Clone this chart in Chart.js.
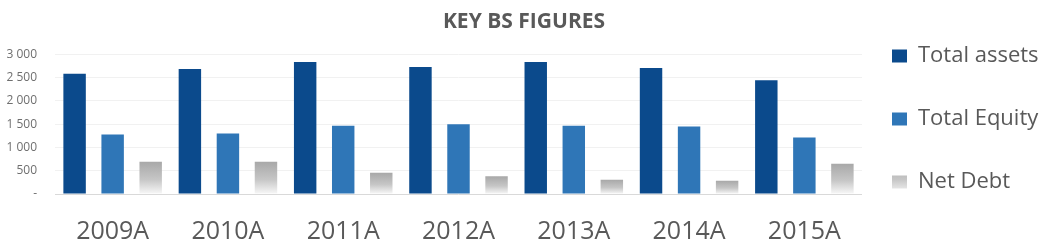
<!DOCTYPE html>
<html><head><meta charset="utf-8">
<script src="https://cdn.jsdelivr.net/npm/chart.js@4/dist/chart.umd.min.js"></script>
<style>html,body{margin:0;padding:0;background:#fff;}#wrap{width:1048px;height:251px;position:relative;}</style>
</head><body><div id="wrap"><canvas id="c" width="1048" height="251"></canvas></div>
<script>
const categories = ['2009A', '2010A', '2011A', '2012A', '2013A', '2014A', '2015A'];
const totalAssets = [2580, 2680, 2830, 2725, 2830, 2705, 2440];
const totalEquity = [1275, 1300, 1465, 1495, 1465, 1450, 1210];
const netDebt = [690, 690, 455, 380, 305, 285, 650];
const yTicks = [0, 500, 1000, 1500, 2000, 2500, 3000];
const seriesNames = ['Total assets', 'Total Equity', 'Net Debt'];
const titleText = 'KEY BS FIGURES';

Chart.defaults.font.family = "'Open Sans', sans-serif";
Chart.defaults.color = '#595959';

function fmt(v) {
  if (v === 0) return '-';
  return String(v).replace(/\B(?=(\d{3})+(?!\d))/g, ' ');
}

function debtGradient(ctx) {
  const chart = ctx.chart;
  if (!chart.chartArea || ctx.type !== 'data') return '#b3b3b3';
  const y = chart.scales.y;
  const top = y.getPixelForValue(ctx.raw);
  const base = y.getPixelForValue(0);
  const g = chart.ctx.createLinearGradient(0, top, 0, base);
  g.addColorStop(0, '#a8a8a8');
  g.addColorStop(0.55, '#c6c6c6');
  g.addColorStop(1, '#f8f8f8');
  return g;
}

const legendShift = {
  id: 'legendShift',
  beforeDraw(chart) {
    const lg = chart.legend;
    if (lg) {
      lg.left = 851;
      lg.top = 4;
    }
  }
};

new Chart(document.getElementById('c'), {
  type: 'bar',
  data: {
    labels: categories,
    datasets: [
      { label: seriesNames[0], data: totalAssets, backgroundColor: '#0b4a8c' },
      { label: seriesNames[1], data: totalEquity, backgroundColor: '#2f76b7' },
      { label: seriesNames[2], data: netDebt, backgroundColor: debtGradient }
    ]
  },
  options: {
    responsive: false,
    animation: false,
    devicePixelRatio: 1,
    categoryPercentage: 0.99,
    barPercentage: 0.59,
    layout: { padding: { left: 0, right: 0, top: 0, bottom: 0 } },
    plugins: {
      title: {
        display: true, text: titleText,
        font: { size: 21, weight: 'bold' }, color: '#595959',
        padding: { top: 9, bottom: 20 }
      },
      legend: {
        position: 'right', align: 'start', maxWidth: 186,
        labels: {
          boxWidth: 15, boxHeight: 13, padding: 41,
          font: { size: 22 }, color: '#595959'
        }
      },
      tooltip: { enabled: false }
    },
    scales: {
      x: {
        grid: { display: false, drawTicks: false },
        border: { display: false },
        ticks: { font: { size: 25 }, color: '#595959', padding: 23 },
        afterFit(s) { s.height = 57; }
      },
      y: {
        min: 0, max: 3000,
        afterBuildTicks(s) { s.ticks = yTicks.map(v => ({ value: v })); },
        grid: {
          drawTicks: false,
          color: (c) => (c.tick && c.tick.value === 0) ? '#d9d9d9' : '#f1f1f1'
        },
        border: { display: false },
        ticks: { font: { size: 12 }, color: '#6f6f6f', padding: 18, callback: (v) => fmt(v) },
        afterFit(s) { s.width = 55; }
      }
    }
  },
  plugins: [legendShift]
});
</script></body></html>
